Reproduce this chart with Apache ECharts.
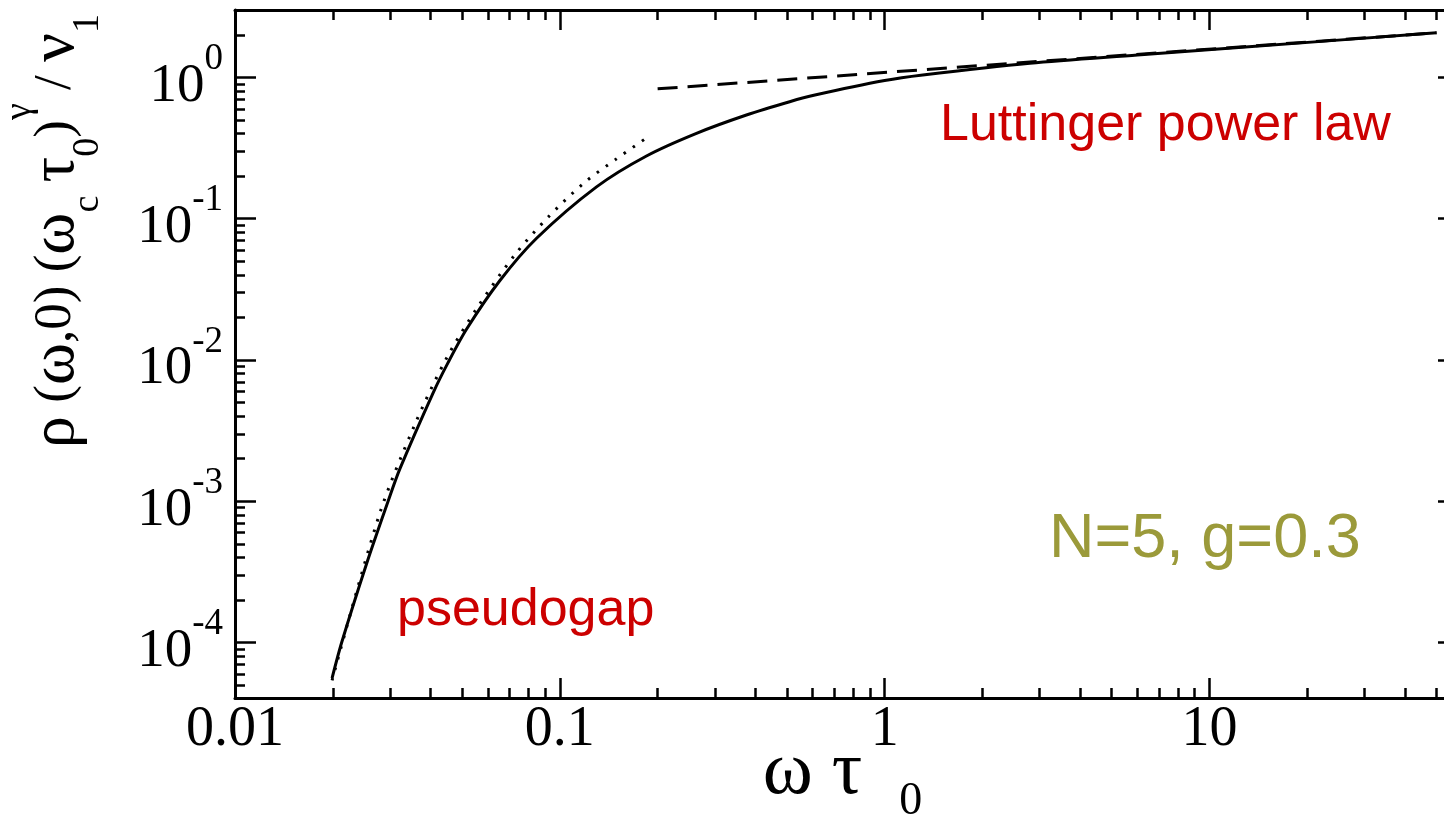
<!DOCTYPE html>
<html>
<head>
<meta charset="utf-8">
<title>pseudogap / Luttinger</title>
<script src="https://cdn.jsdelivr.net/npm/echarts@6/dist/echarts.min.js"></script>
<style>
  html, body { margin: 0; padding: 0; background: #fff; }
  #chart { width: 1444px; height: 823px; }
</style>
</head>
<body>
<div id="chart"></div>
<script>
// full result rho(w,0) (w_c tau_0)^gamma / v_1 vs w tau_0
const solidX = [0.0199, 0.0213, 0.0254, 0.0296, 0.0322, 0.0408, 0.0452, 0.0516, 0.0654, 0.0848, 0.1297,
  0.1848, 0.2634, 0.3753, 0.51, 0.61, 1.0, 1.31, 2.8, 6.0, 12.9, 50];
const solidY = [5.6e-5, 1.0e-4, 3.6e-4, 1.0e-3, 1.7e-3, 5.9e-3, 9.5e-3, 1.65e-2, 3.65e-2, 0.0727, 0.168,
  0.278, 0.402, 0.542, 0.673, 0.75, 0.95, 1.04, 1.26, 1.44, 1.64, 2.07];
// pseudogap asymptote (dotted)
const gapX = [0.0199, 0.0279, 0.0358, 0.0448, 0.056, 0.0727, 0.092, 0.119, 0.149, 0.1886];
const gapY = [5.4e-5, 8.2e-4, 3.5e-3, 1.03e-2, 2.39e-2, 5.55e-2, 0.1025, 0.18, 0.264, 0.385];
// Luttinger power law (dashed)
const lutX = [0.2, 50];
const lutY = [0.83, 2.07];

// axis ranges and ticks
const xMin = 0.01, xMax = 55;
const yMin = 4.05e-5, yMax = 3.0;
const xMajor = [0.01, 0.1, 1, 10];
const xMajorLabels = ['0.01', '0.1', '1', '10'];
const yMajor = [1e-4, 1e-3, 1e-2, 1e-1, 1];
const yExp = ['-4', '-3', '-2', '-1', '0'];
const xMinor = [0.02, 0.03, 0.04, 0.05, 0.06, 0.07, 0.08, 0.09, 0.2, 0.3, 0.4, 0.5, 0.6, 0.7, 0.8, 0.9,
  2, 3, 4, 5, 6, 7, 8, 9, 20, 30, 40, 50];
const yMinor = [5e-5, 6e-5, 7e-5, 8e-5, 9e-5, 2e-4, 3e-4, 4e-4, 5e-4, 6e-4, 7e-4, 8e-4, 9e-4,
  2e-3, 3e-3, 4e-3, 5e-3, 6e-3, 7e-3, 8e-3, 9e-3, 0.02, 0.03, 0.04, 0.05, 0.06, 0.07, 0.08, 0.09,
  0.2, 0.3, 0.4, 0.5, 0.6, 0.7, 0.8, 0.9, 2];

function zip(xs, ys) { return xs.map((x, i) => [x, ys[i]]); }
function nearest(list, v) {
  let best = 0;
  list.forEach((t, i) => { if (Math.abs(Math.log10(t) - Math.log10(v)) < Math.abs(Math.log10(list[best]) - Math.log10(v))) best = i; });
  return best;
}

const serif = 'Liberation Serif';
const sans = 'Liberation Sans';
const black = '#000';

const gridBox = { left: 235, top: 10, right: -6, bottom: 125, containLabel: false, outerBoundsMode: 'none' };

function xAx(grid, pos, ticks, len, withLine, withLabel) {
  const ax = {
    type: 'log', gridIndex: grid, position: pos, min: xMin, max: xMax, logBase: 10,
    axisLine: { show: withLine, onZero: false, lineStyle: { color: black, width: 3 } },
    axisTick: { show: true, inside: true, length: len, customValues: ticks, lineStyle: { color: black, width: 2.5 } },
    axisLabel: { show: false },
    splitLine: { show: false }, minorTick: { show: false }
  };
  if (withLabel) {
    ax.axisLabel = {
      show: true, customValues: xMajor, margin: 4, hideOverlap: false,
      fontFamily: serif, fontSize: 56, lineHeight: 56, color: black,
      formatter: v => xMajorLabels[nearest(xMajor, v)]
    };
    ax.name = '{g|ω τ }{b|0}';
    ax.nameLocation = 'middle';
    ax.nameGap = 44;
    ax.nameMoveOverlap = false;
    ax.nameTextStyle = {
      rich: {
        g: { fontFamily: serif, fontSize: 76, lineHeight: 76, color: black, padding: [0, 0, 14, 0] },
        b: { fontFamily: serif, fontSize: 46, lineHeight: 46, color: black, padding: [44, 0, 0, 18] }
      }
    };
  }
  return ax;
}

function yAx(grid, pos, ticks, len, withLine, withLabel) {
  const ax = {
    type: 'log', gridIndex: grid, position: pos, min: yMin, max: yMax, logBase: 10,
    axisLine: { show: withLine, onZero: false, lineStyle: { color: black, width: 3 } },
    axisTick: { show: true, inside: true, length: len, customValues: ticks, lineStyle: { color: black, width: 2.5 } },
    axisLabel: { show: false },
    splitLine: { show: false }, minorTick: { show: false }
  };
  if (withLabel) {
    ax.axisLabel = {
      show: true, customValues: yMajor, margin: 12, hideOverlap: false,
      formatter: v => '{b|10}{s|' + yExp[nearest(yMajor, v)] + '}',
      rich: {
        b: { fontFamily: serif, fontSize: 55, lineHeight: 55, color: black, padding: [18, 0, 0, 0] },
        s: { fontFamily: serif, fontSize: 37, lineHeight: 37, color: black, padding: [0, 0, 36, 0] }
      }
    };
  }
  return ax;
}

const chart = echarts.init(document.getElementById('chart'), null, { renderer: 'canvas' });

const option = {
  animation: false,
  backgroundColor: '#fff',
  grid: [Object.assign({}, gridBox), Object.assign({}, gridBox)],
  xAxis: [
    xAx(0, 'bottom', xMajor, 20, true, true),
    xAx(0, 'top', xMajor, 20, true, false),
    xAx(1, 'bottom', xMinor, 10, false, false),
    xAx(1, 'top', xMinor, 10, false, false)
  ],
  yAxis: [
    yAx(0, 'left', yMajor, 21, true, true),
    yAx(0, 'right', yMajor, 12, false, false),
    yAx(1, 'left', yMinor, 10, false, false)
  ],
  series: [
    {
      name: 'Luttinger', type: 'line', xAxisIndex: 0, yAxisIndex: 0,
      data: zip(lutX, lutY), showSymbol: false, silent: true,
      lineStyle: { color: black, width: 3, type: [20, 10] }, z: 3
    },
    {
      name: 'pseudogap', type: 'line', xAxisIndex: 0, yAxisIndex: 0,
      data: zip(gapX, gapY), showSymbol: false, silent: true, smooth: 0.3,
      lineStyle: { color: black, width: 3, type: [2.5, 8.5] }, z: 3
    },
    {
      name: 'full', type: 'line', xAxisIndex: 0, yAxisIndex: 0,
      data: zip(solidX, solidY), showSymbol: false, silent: true, smooth: 0.3,
      lineStyle: { color: black, width: 3 }, z: 4
    }
  ],
  graphic: [
    {
      type: 'text', x: 56, y: 231, rotation: Math.PI / 2,
      style: {
        text: '{g|ρ}{m| (}{g|ω}{m|,0) (}{g|ω}{sub|c}{m| }{g|τ}{sub|0}{m|)}{sup|γ}{m| / }{g|ν}{sub|1}',
        align: 'center', verticalAlign: 'middle',
        rich: {
          m: { fontFamily: serif, fontSize: 53, lineHeight: 53, fill: black, padding: [38, 0, 37, 0] },
          g: { fontFamily: serif, fontSize: 64, lineHeight: 64, fill: black, padding: [32, 0, 32, 0] },
          sub: { fontFamily: serif, fontSize: 38, lineHeight: 38, fill: black, padding: [77, 0, 13, 0] },
          sup: { fontFamily: serif, fontSize: 38, lineHeight: 38, fill: black, padding: [9, 0, 81, 0] }
        }
      }
    },
    {
      type: 'text', x: 940, y: 126,
      style: { text: 'Luttinger power law', fontFamily: sans, fontSize: 52, fill: '#cc0000', align: 'left', verticalAlign: 'middle' }
    },
    {
      type: 'text', x: 397, y: 611,
      style: { text: 'pseudogap', fontFamily: sans, fontSize: 52, fill: '#cc0000', align: 'left', verticalAlign: 'middle' }
    },
    {
      type: 'text', x: 1049, y: 540,
      style: { text: 'N=5, g=0.3', fontFamily: sans, fontSize: 63, fill: '#9b9a3a', align: 'left', verticalAlign: 'middle' }
    }
  ]
};

chart.setOption(option);
</script>
</body>
</html>
